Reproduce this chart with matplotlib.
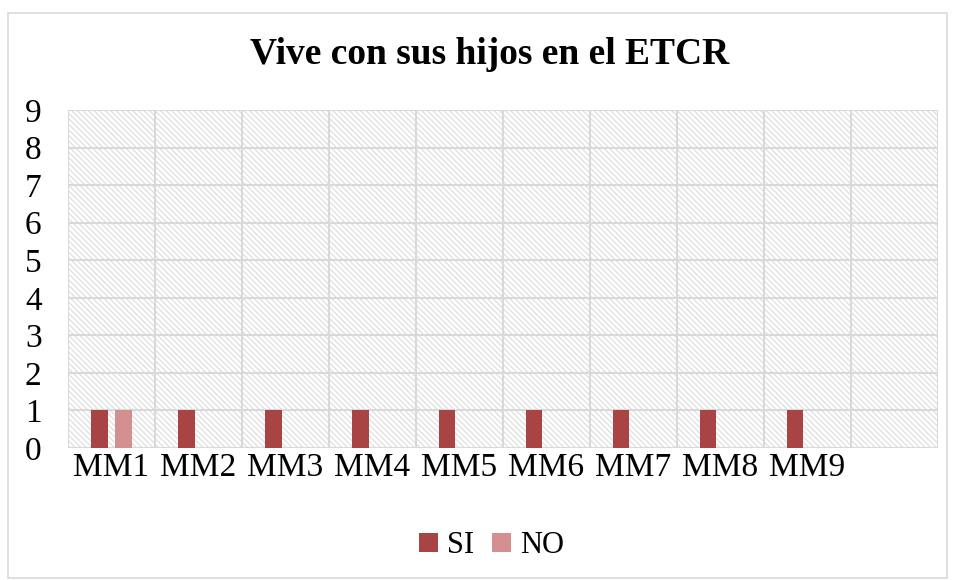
import matplotlib.pyplot as plt
import numpy as np
from matplotlib.patches import Rectangle

# Datos
categorias = ["MM1", "MM2", "MM3", "MM4", "MM5", "MM6", "MM7", "MM8", "MM9", ""]
si = [1, 1, 1, 1, 1, 1, 1, 1, 1, np.nan]
no = [1, np.nan, np.nan, np.nan, np.nan, np.nan, np.nan, np.nan, np.nan, np.nan]

plt.rcParams['font.family'] = ['Liberation Serif', 'DejaVu Serif']
plt.rcParams['hatch.color'] = '#dcdcdc'
plt.rcParams['hatch.linewidth'] = 0.8

fig = plt.figure(figsize=(9.55, 5.8), dpi=100)
ax = fig.add_axes([0.0712, 0.2276, 0.9108, 0.5828])

# borde de la figura
fig.patches.append(Rectangle((0.008, 0.003), 0.984, 0.975, transform=fig.transFigure,
                             fill=False, edgecolor='#d9d9d9', linewidth=1.2))

x = np.arange(len(categorias))
ax.set_xlim(-0.5, len(categorias) - 0.5)
ax.set_ylim(0, 9)

# fondo rayado
ax.add_patch(Rectangle((0, 0), 1, 1, transform=ax.transAxes, facecolor='white',
                       hatch='\\\\\\\\\\\\', edgecolor='#dcdcdc', linewidth=0, zorder=0))

ancho = 0.19
ax.bar(x - 0.14, si, ancho, color='#a84444', label='SI', zorder=3)
ax.bar(x + 0.14, no, ancho, color='#d49090', label='NO', zorder=3)

# cuadricula
for xv in np.arange(-0.5, len(categorias) + 0.5, 1):
    ax.axvline(xv, color='#d9d9d9', linewidth=1.5, zorder=1)
for yv in range(0, 10):
    ax.axhline(yv, color='#d9d9d9', linewidth=1.5, zorder=1)

for s in ax.spines.values():
    s.set_visible(False)

ax.set_xticks(x)
ax.set_xticklabels(categorias, fontsize=24)
ax.set_yticks(range(0, 10))
ax.set_yticklabels([str(i) for i in range(0, 10)], fontsize=24)
ax.tick_params(length=0, pad=3)
ax.tick_params(axis='y', pad=19)

fig.text(490 / 955, 1 - 55 / 580, "Vive con sus hijos en el ETCR", fontsize=27,
         fontweight='bold', ha='center', va='center')

ax.legend(loc='upper center', bbox_to_anchor=(0.487, -0.165), ncol=2, frameon=False,
          fontsize=22, handlelength=0.6, handleheight=0.6, handletextpad=0.3,
          columnspacing=0.6)

fig.savefig("out.png", dpi=100)
